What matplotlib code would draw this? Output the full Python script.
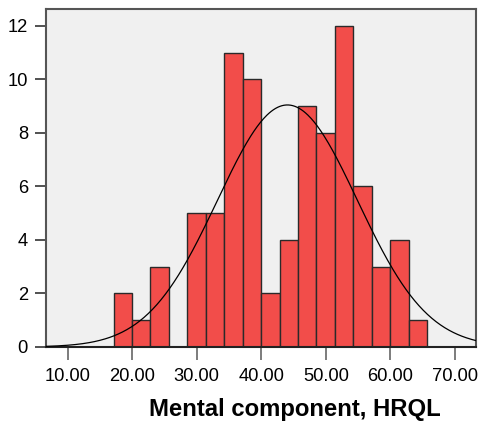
import numpy as np
import matplotlib.pyplot as plt

# histogram of mental component scores
counts = [2, 1, 3, 0, 5, 5, 11, 10, 2, 4, 9, 8, 12, 6, 3, 4, 1]
bin_start = 17.12
bin_width = 2.856
mean_val = 44.05
sd_val = 10.83
xticks = [10, 20, 30, 40, 50, 60, 70]
yticks = [0, 2, 4, 6, 8, 10, 12]

plt.rcParams['font.family'] = ['Liberation Sans', 'DejaVu Sans']

fig = plt.figure(figsize=(4.81, 4.28), dpi=100)
ax = fig.add_axes([0.0956, 0.1893, 0.894, 0.79])
ax.set_facecolor('#F0F0F0')

edges = bin_start + bin_width * np.arange(len(counts) + 1)
ax.bar(edges[:-1], counts, width=bin_width, align='edge',
       color='#F24D4A', edgecolor='#2a2a2a', linewidth=1.0, zorder=2)

# normal curve scaled to counts
xs = np.linspace(6.66, 73.25, 400)
n = sum(counts)
ys = n * bin_width / (sd_val * np.sqrt(2 * np.pi)) * np.exp(-0.5 * ((xs - mean_val) / sd_val) ** 2)
ax.plot(xs, ys, color='black', linewidth=0.9, zorder=3)

ax.set_xlim(6.66, 73.25)
ax.set_ylim(0, 12.64)
ax.set_xticks(xticks)
ax.set_xticklabels(['%.2f' % v for v in xticks])
ax.set_yticks(yticks)

for s in ax.spines.values():
    s.set_color('#555555')
    s.set_linewidth(1.5)
ax.spines['bottom'].set_color('#222222')

ax.tick_params(axis='x', length=9, width=1.2, color='#666666', pad=6, labelsize=13.2)
ax.tick_params(axis='y', length=8, width=1.2, color='#333333', pad=5, labelsize=13.2)

fig.text(0.613, 0.028, 'Mental component, HRQL', ha='center', va='baseline',
         fontsize=17.2, fontweight='bold')

fig.savefig('out.png', dpi=100)
